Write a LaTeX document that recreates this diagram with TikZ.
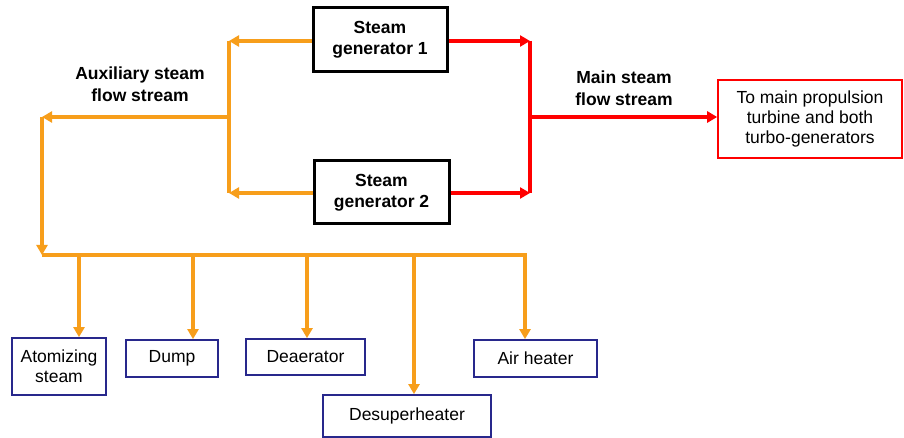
\documentclass[tikz,border=0pt]{standalone}
\usepackage{fontspec}
\setmainfont{Liberation Sans}
\usetikzlibrary{arrows.meta}
\definecolor{auxorange}{RGB}{247,158,27}
\definecolor{mainred}{RGB}{255,0,0}
\definecolor{userblue}{RGB}{40,40,140}

\begin{document}
\begin{tikzpicture}[x=1pt, y=-1pt,
    gen/.style={rectangle, draw=black, line width=3pt, align=center, inner sep=0pt, font=\fontsize{17.5}{21}\selectfont\bfseries},
    user/.style={rectangle, draw=userblue, line width=1.8pt, align=center, inner sep=0pt, font=\fontsize{17.5}{20}\selectfont},
    dest/.style={rectangle, draw=mainred, line width=1.6pt, align=center, inner sep=0pt, font=\fontsize{17.5}{20}\selectfont},
    flowtext/.style={align=center, font=\fontsize{17.5}{21.5}\selectfont\bfseries},
    aux/.style={draw=auxorange, line width=3.4pt},
    auxarrow/.style={aux, -{Triangle[length=10pt, width=11pt]}},
    main/.style={draw=mainred, line width=3.4pt},
    mainarrow/.style={main, -{Triangle[length=10pt, width=11pt]}}
]
    \fill[white] (0,0) rectangle (904,438);
    \useasboundingbox (0,0) rectangle (904,438);

    \node[gen, minimum width=134pt, minimum height=64pt] (sg1) at (380,40) {Steam\\ generator 1};
    \node[gen, minimum width=135pt, minimum height=63pt] (sg2) at (381.5,192.5) {Steam\\ generator 2};
    \node[dest, minimum width=184pt, minimum height=78pt] (turb) at (810,119) {To main propulsion\\ turbine and both\\ turbo-generators};

    \node[flowtext] (auxlbl) at (140,84) {Auxiliary steam\\ flow stream};
    \node[flowtext] (mainlbl) at (624,88) {Main steam\\ flow stream};

    \node[user, minimum width=94pt, minimum height=57pt] (atom) at (59,366.5) {Atomizing\\ steam};
    \node[user, minimum width=92pt, minimum height=37pt] (dump) at (172,358.5) {Dump};
    \node[user, minimum width=119pt, minimum height=36pt] (deaer) at (305.5,357) {Deaerator};
    \node[user, minimum width=168pt, minimum height=42pt] (desup) at (407,416) {Desuperheater};
    \node[user, minimum width=123pt, minimum height=37pt] (airh) at (535.5,358.5) {Air heater};

    % auxiliary steam
    \coordinate (ja) at (229,41);
    \coordinate (jb) at (229,193);
    \coordinate (jc) at (229,117);
    \coordinate (jd) at (42,117);
    \coordinate (b0) at (42,255);
    \coordinate (b1) at (79,255);
    \coordinate (b2) at (193,255);
    \coordinate (b3) at (307,255);
    \coordinate (b4) at (414,255);
    \coordinate (b5) at (525,255);

    \draw[auxarrow] (sg1.west |- ja) -- (ja);
    \draw[auxarrow] (sg2.west |- jb) -- (jb);
    \draw[aux] (ja) -- (jb);
    \draw[auxarrow] (jc) -- (jd);
    \draw[auxarrow] (jd) -- (b0);
    \draw[auxarrow] (b0) -- (b5) -- (b5 |- airh.north);
    \draw[auxarrow] (b1) -- (b1 |- atom.north);
    \draw[auxarrow] (b2) -- (b2 |- dump.north);
    \draw[auxarrow] (b3) -- (b3 |- deaer.north);
    \draw[auxarrow] (b4) -- (b4 |- desup.north);

    % main steam
    \coordinate (ma) at (530,41);
    \coordinate (mb) at (530,193);
    \coordinate (mc) at (530,117);

    \draw[mainarrow] (sg1.east |- ma) -- (ma);
    \draw[mainarrow] (sg2.east |- mb) -- (mb);
    \draw[main] (ma) -- (mb);
    \draw[mainarrow] (mc) -- (mc -| turb.west);
\end{tikzpicture}
\end{document}
